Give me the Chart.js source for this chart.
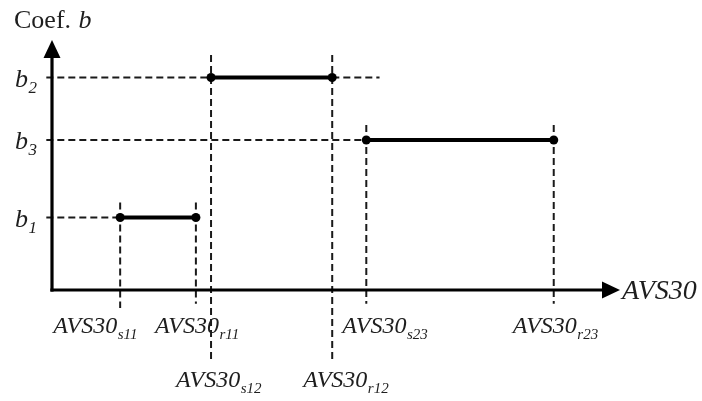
<!DOCTYPE html>
<html><head><meta charset="utf-8">
<script src="https://cdn.jsdelivr.net/npm/chart.js@4"></script>
<style>html,body{margin:0;padding:0;background:#fff;}#wrap{width:702px;height:401px;position:relative;}</style>
</head><body><div id="wrap"><canvas id="c"></canvas></div>
<script>
// ---- Data (schematic units) ----
const levelSubs = ['1', '2', '3'];            // b1, b2, b3
const levelValues = [2.9, 8.5, 6.0];          // coefficient levels
const segStart = [1.8, 4.2, 8.3];             // AVS30_s11, AVS30_s12, AVS30_s23
const segEnd = [3.8, 7.4, 13.25];             // AVS30_r11, AVS30_r12, AVS30_r23
const levelGuideStart = [-0.15, -0.15, -0.15];
const levelGuideEnd = [1.8, 8.65, 8.3];
const tickBase = 'AVS30';
const tickSubs = ['s11', 'r11', 's12', 'r12', 's23', 'r23'];
const tickValues = [1.8, 3.8, 4.2, 7.4, 8.3, 13.25];
const guideTop = [3.5, 3.5, 9.4, 9.4, 6.6, 6.6];
const guideBottom = [-0.72, -0.55, -2.8, -2.8, -0.55, -0.55];
const xAxisTitle = 'AVS30';
const yAxisTitle = ['Coef. ', 'b'];

// ---- Layout (not data) ----
const tickLabelOffsetX = [-67, -41, -35, -29, -24, -41];
const tickLabelRow = [0, 0, 1, 1, 0, 0];
const SERIF = '"Liberation Serif", "Times New Roman", serif';

const datasets = [];
// horizontal dashed guides
levelValues.forEach((v, i) => {
  datasets.push({
    data: [{x: levelGuideStart[i], y: v}, {x: levelGuideEnd[i], y: v}],
    borderColor: '#1a1a1a', borderWidth: 2, borderDash: [7, 4], pointRadius: 0,
    showLine: true, clip: false, order: 3
  });
});
// vertical dashed guides
tickValues.forEach((v, i) => {
  datasets.push({
    data: [{x: v, y: guideTop[i]}, {x: v, y: guideBottom[i]}],
    borderColor: '#1a1a1a', borderWidth: 2, borderDash: [7, 4], pointRadius: 0,
    showLine: true, clip: false, order: 3
  });
});
// solid segments
levelValues.forEach((v, i) => {
  datasets.push({
    data: [{x: segStart[i], y: v}, {x: segEnd[i], y: v}],
    borderColor: '#000', borderWidth: 4, pointRadius: 4.5,
    pointBackgroundColor: '#000', pointBorderColor: '#000', pointBorderWidth: 0,
    showLine: true, clip: false, order: 1
  });
});

function subText(ctx, base, sub, x, y, size, subSize, subDy, italicBase) {
  ctx.font = (italicBase ? 'italic ' : '') + size + 'px ' + SERIF;
  ctx.fillText(base, x, y);
  const w = ctx.measureText(base).width;
  ctx.font = 'italic ' + subSize + 'px ' + SERIF;
  ctx.fillText(sub, x + w + 0.5, y + subDy);
}

const drawPlugin = {
  id: 'schematic',
  afterDatasetsDraw(chart) {
    const ctx = chart.ctx;
    const xs = chart.scales.x, ys = chart.scales.y;
    const ox = xs.getPixelForValue(0), oy = ys.getPixelForValue(0);
    const xTip = xs.getPixelForValue(xs.max), yTip = ys.getPixelForValue(ys.max);
    ctx.save();
    ctx.strokeStyle = '#000'; ctx.fillStyle = '#000'; ctx.lineWidth = 3.2;
    // y axis
    ctx.beginPath(); ctx.moveTo(ox, oy + 1.6); ctx.lineTo(ox, yTip + 14); ctx.stroke();
    ctx.beginPath(); ctx.moveTo(ox, yTip); ctx.lineTo(ox - 8.5, yTip + 18); ctx.lineTo(ox + 8.5, yTip + 18); ctx.closePath(); ctx.fill();
    // x axis
    ctx.beginPath(); ctx.moveTo(ox - 1.6, oy); ctx.lineTo(xTip - 14, oy); ctx.stroke();
    ctx.beginPath(); ctx.moveTo(xTip, oy); ctx.lineTo(xTip - 18, oy - 8.5); ctx.lineTo(xTip - 18, oy + 8.5); ctx.closePath(); ctx.fill();

    ctx.fillStyle = '#1e1e1e';
    ctx.textBaseline = 'alphabetic'; ctx.textAlign = 'left';
    // y-axis title
    ctx.font = '26px ' + SERIF;
    ctx.fillText(yAxisTitle[0], 14, 28);
    const w0 = ctx.measureText(yAxisTitle[0]).width;
    ctx.font = 'italic 26px ' + SERIF;
    ctx.fillText(yAxisTitle[1], 14 + w0 + 1, 28);
    // level labels
    levelValues.forEach((v, i) => {
      const py = ys.getPixelForValue(v);
      subText(ctx, 'b', levelSubs[i], 15, py + 9, 26, 17, 6, true);
    });
    // x tick labels
    tickValues.forEach((v, i) => {
      const px = xs.getPixelForValue(v);
      const by = oy + (tickLabelRow[i] ? 97 : 43);
      subText(ctx, tickBase, tickSubs[i], px + tickLabelOffsetX[i], by, 24, 15, 6, true);
    });
    // x-axis title
    ctx.font = 'italic 28px ' + SERIF;
    ctx.fillText(xAxisTitle, xTip + 2, oy + 9);
    ctx.restore();
  }
};

new Chart(document.getElementById('c'), {
  type: 'scatter',
  data: { datasets },
  options: {
    responsive: true, maintainAspectRatio: false, animation: false,
    layout: { padding: { left: 52, right: 82, top: 40, bottom: 11 } },
    plugins: { legend: { display: false }, tooltip: { enabled: false } },
    scales: {
      x: { type: 'linear', min: 0, max: 15, display: false },
      y: { type: 'linear', min: -4, max: 10, display: false }
    },
    elements: { line: { tension: 0 } }
  },
  plugins: [drawPlugin]
});
</script>
</body></html>
